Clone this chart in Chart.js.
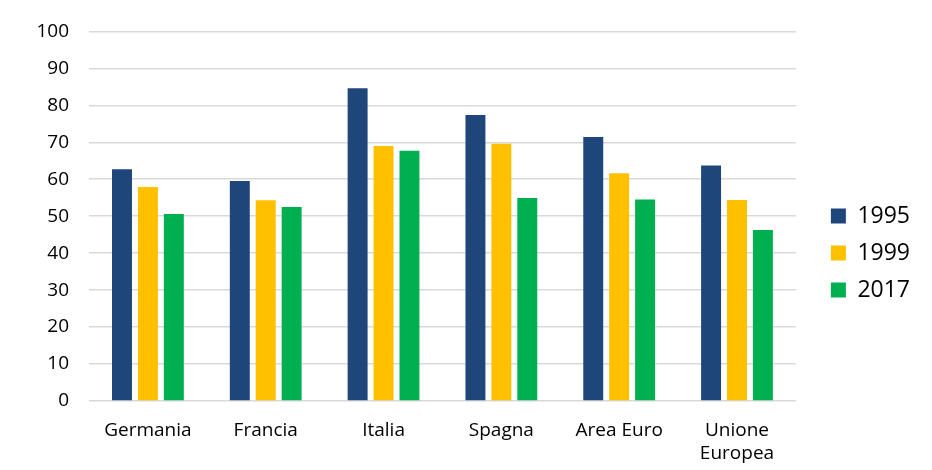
<!DOCTYPE html>
<html>
<head>
<meta charset="utf-8">
<script src="https://cdn.jsdelivr.net/npm/chart.js@4"></script>
<style>
  body { margin: 0; background: #fff; }
  #wrap { width: 932px; height: 470px; }
</style>
</head>
<body>
<div id="wrap"><canvas id="myChart" width="932" height="470"></canvas></div>
<script>
// Dati
const categorie = ["Germania", "Francia", "Italia", "Spagna", "Area Euro", ["Unione", "Europea"]];
const anni = ["1995", "1999", "2017"];
const valori1995 = [62.7, 59.5, 84.6, 77.4, 71.4, 63.7];
const valori1999 = [57.9, 54.3, 69.0, 69.6, 61.6, 54.4];
const valori2017 = [50.6, 52.5, 67.7, 54.9, 54.5, 46.3];
const colori = ["#1f467b", "#ffc000", "#00b050"];

const font = "'Open Sans', 'DejaVu Sans', sans-serif";

const datasets = [valori1995, valori1999, valori2017].map((serie, i) => ({
  label: anni[i],
  data: serie,
  backgroundColor: colori[i],
  borderWidth: 0,
  barPercentage: 0.77,
  categoryPercentage: 0.66,
}));

// sposta la legenda a destra e in basso
const spostaLegenda = {
  id: "spostaLegenda",
  afterLayout(chart) {
    const lg = chart.legend;
    if (lg) {
      lg.left += 21;
      lg.right += 21;
      lg.top += 11;
      lg.bottom += 11;
    }
  },
};

const ctx = document.getElementById("myChart");
new Chart(ctx, {
  type: "bar",
  data: { labels: categorie, datasets },
  plugins: [spostaLegenda],
  options: {
    responsive: false,
    animation: false,
    layout: { padding: { top: 14, right: 33, left: 0, bottom: 0 } },
    plugins: {
      legend: {
        position: "right",
        labels: {
          font: { family: font, size: 23 },
          color: "#000",
          boxWidth: 15,
          boxHeight: 15,
          padding: 14,
        },
      },
      tooltip: { enabled: false },
    },
    scales: {
      x: {
        grid: { display: false },
        border: { display: false },
        ticks: { font: { family: font, size: 19 }, color: "#000", maxRotation: 0, padding: 10 },
        afterFit: (scale) => { scale.height = 69; },
      },
      y: {
        min: 0,
        max: 100,
        ticks: { stepSize: 10, font: { family: font, size: 19 }, color: "#000", padding: 20 },
        grid: { color: "#d9d9d9", lineWidth: 1.5, drawTicks: false },
        border: { display: false },
        afterFit: (scale) => { scale.width = 89; },
      },
    },
  },
});
</script>
</body>
</html>
